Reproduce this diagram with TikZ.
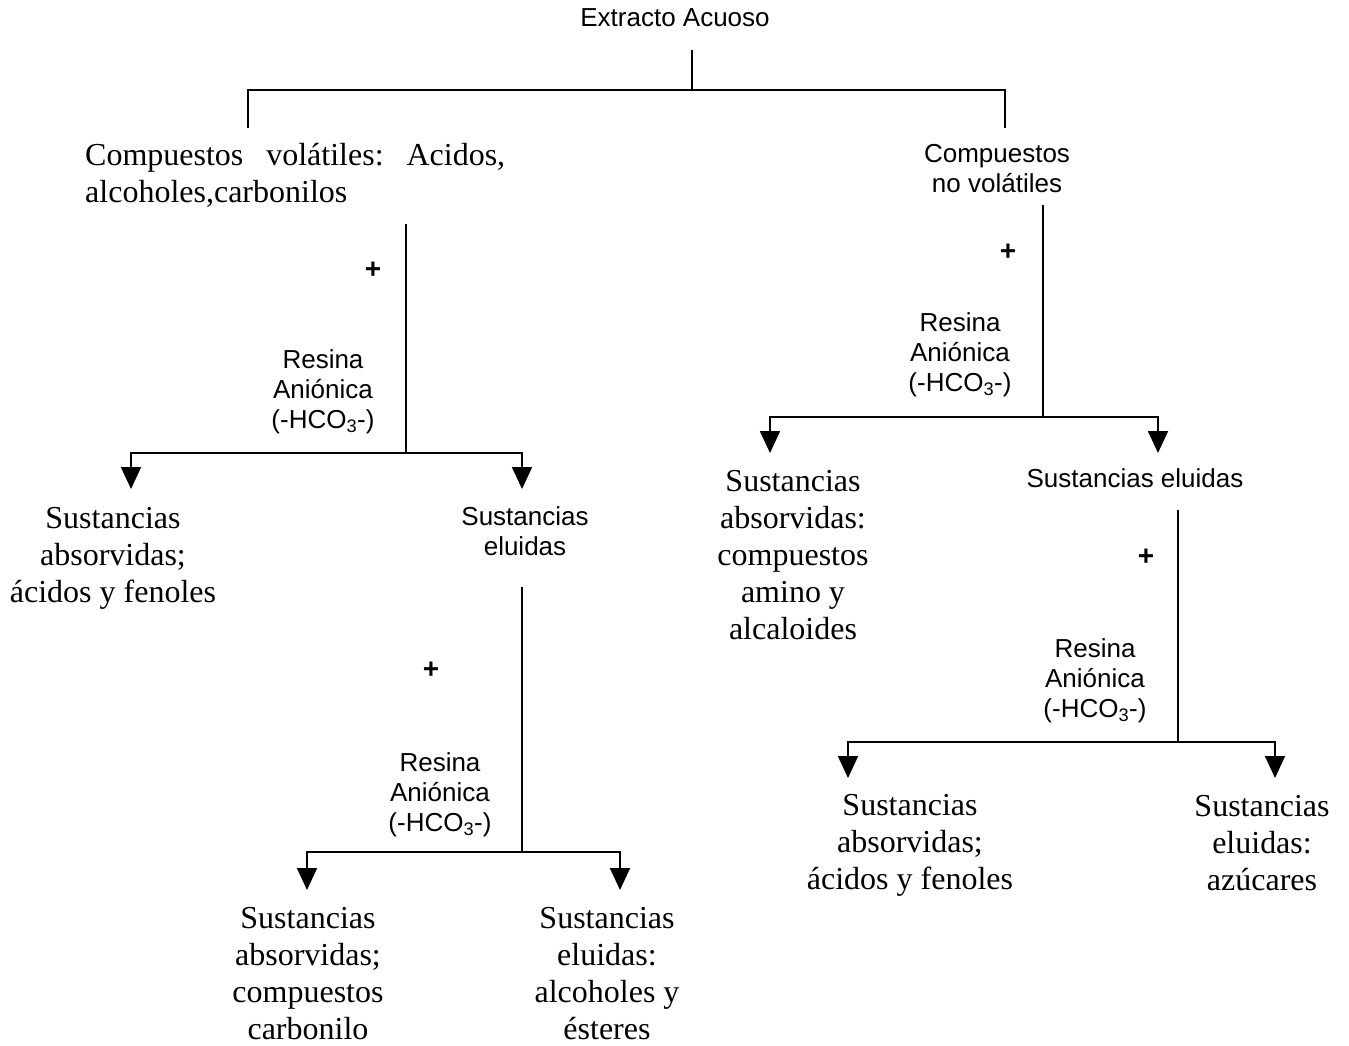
\documentclass[tikz,border=0pt]{standalone}
\usepackage{fontspec}
\setmainfont{Liberation Serif}
\newfontfamily\arialf{Liberation Sans}
\usetikzlibrary{arrows.meta}
\begin{document}
\begin{tikzpicture}[x=1pt,y=-1pt,
  ser/.style={font=\fontsize{32}{37}\selectfont, align=center, inner sep=0pt},
  san/.style={font=\arialf\fontsize{26}{30}\selectfont, align=center, inner sep=0pt},
  pls/.style={font=\arialf\bfseries\fontsize{28}{30}\selectfont, inner sep=0pt},
  ln/.style={line width=1.8pt},
  arr/.style={line width=1.8pt, -{Triangle[width=20pt,length=22pt]}}]
\useasboundingbox (0,0) rectangle (1349,1045);
\fill[white] (0,0) rectangle (1349,1045);
% texts
\node[san] (top) at (675,18) {Extracto Acuoso};
\node[ser, align=left, anchor=west] (vol) at (85,175) {\frenchspacing\makebox[420pt][s]{Compuestos volátiles: Acidos,}\\alcoholes,carbonilos};
\node[san] (nvol) at (997,169) {Compuestos\\no volátiles};
\node[pls] (plus1) at (373,270) {+};
\node[san] (res1) at (323,392) {Resina\\Aniónica\\(-HCO\textsubscript{3}-)};
\node[ser] (abs1) at (113,558) {Sustancias\\absorvidas;\\ácidos y fenoles};
\node[san] (elu1) at (525,531) {Sustancias\\eluidas};
\node[pls] (plus2) at (431,670) {+};
\node[san] (res2) at (440,795) {Resina\\Aniónica\\(-HCO\textsubscript{3}-)};
\node[ser] (abs2) at (308,974) {Sustancias\\absorvidas;\\compuestos\\carbonilo};
\node[ser] (elu2) at (607,974) {Sustancias\\eluidas:\\alcoholes y\\ésteres};
\node[pls] (plus3) at (1008,252) {+};
\node[san] (res3) at (960,355) {Resina\\Aniónica\\(-HCO\textsubscript{3}-)};
\node[ser] (abs3) at (793,555) {Sustancias\\absorvidas:\\compuestos\\amino y\\alcaloides};
\node[san] (elu3) at (1135,478) {Sustancias eluidas};
\node[pls] (plus4) at (1146,557) {+};
\node[san] (res4) at (1095,681) {Resina\\Aniónica\\(-HCO\textsubscript{3}-)};
\node[ser] (abs4) at (910,845) {Sustancias\\absorvidas;\\ácidos y fenoles};
\node[ser] (elu4) at (1262,843) {Sustancias\\eluidas:\\azúcares};
% top bracket
\coordinate (t0) at (692,50);
\coordinate (tj) at (692,90);
\coordinate (tl) at (248,90);
\coordinate (tr) at (1005,90);
\coordinate (tld) at (248,128);
\coordinate (trd) at (1005,128);
\draw[ln] (t0) -- (tj);
\draw[ln] (tld) -- (tl) -- (tr) -- (trd);
% branch 1
\coordinate (a0) at (406,224);
\coordinate (aj) at (406,453);
\coordinate (alt) at (131,489);
\coordinate (art) at (522,489);
\draw[ln] (a0) -- (aj);
\draw[arr] (aj) -| (alt);
\draw[arr] (aj) -| (art);
% branch 2
\coordinate (b0) at (522,587);
\coordinate (bj) at (522,852);
\coordinate (blt) at (307,890);
\coordinate (brt) at (620,890);
\draw[ln] (b0) -- (bj);
\draw[arr] (bj) -| (blt);
\draw[arr] (bj) -| (brt);
% branch 3
\coordinate (c0) at (1043,205);
\coordinate (cj) at (1043,417);
\coordinate (clt) at (770,453);
\coordinate (crt) at (1158,453);
\draw[ln] (c0) -- (cj);
\draw[arr] (cj) -| (clt);
\draw[arr] (cj) -| (crt);
% branch 4
\coordinate (d0) at (1178,510);
\coordinate (dj) at (1178,742);
\coordinate (dlt) at (848,778);
\coordinate (drt) at (1275,778);
\draw[ln] (d0) -- (dj);
\draw[arr] (dj) -| (dlt);
\draw[arr] (dj) -| (drt);
\end{tikzpicture}
\end{document}
